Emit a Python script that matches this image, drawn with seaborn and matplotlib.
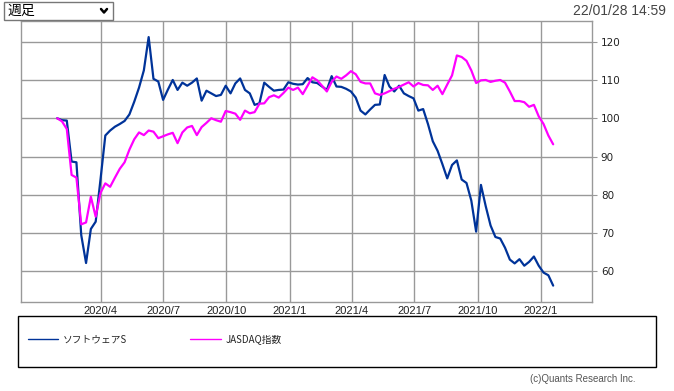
import numpy as np
import pandas as pd
import matplotlib
matplotlib.use("Agg")
import matplotlib.pyplot as plt
from matplotlib.lines import Line2D
from matplotlib.patches import Rectangle
import seaborn as sns

# weekly series, rebased to 100 at the first week
start_date = "2020-01-29"
software = [100.0, 99.5, 99.4, 88.7, 88.5, 69.5, 62.2, 71.1, 73.0, 84.0,
            95.5, 96.8, 97.8, 98.5, 99.3, 101.0, 104.3, 108.0, 112.5, 121.2,
            110.3, 109.6, 104.8, 107.5, 110.0, 107.4, 109.3, 108.5, 109.3, 110.4,
            104.6, 107.2, 106.5, 105.8, 106.1, 108.5, 106.5, 109.1, 110.4, 107.4,
            106.5, 103.5, 103.9, 109.3, 108.2, 107.2, 107.4, 107.5, 109.4, 109.0,
            108.8, 108.9, 110.5, 109.4, 109.2, 108.3, 107.4, 111.0, 108.3, 108.2,
            107.7, 107.0, 105.4, 102.0, 101.0, 102.3, 103.5, 103.6, 111.3, 108.3,
            107.0, 108.5, 106.5, 105.8, 105.2, 102.0, 102.4, 98.5, 94.0, 91.5,
            88.0, 84.3, 87.8, 89.0, 84.0, 83.1, 78.5, 70.4, 82.6, 77.0,
            72.0, 69.0, 68.6, 66.2, 63.1, 62.1, 63.2, 61.5, 62.5, 63.9,
            61.5, 59.7, 59.0, 56.3]
jasdaq = [100.0, 99.2, 97.2, 85.2, 84.5, 72.3, 72.8, 79.5, 74.3, 80.5,
          83.0, 82.1, 84.5, 86.8, 88.5, 91.8, 94.5, 96.3, 95.6, 96.8,
          96.5, 94.8, 95.3, 95.8, 96.2, 93.5, 96.3, 97.6, 98.0, 95.6,
          97.7, 98.8, 100.0, 99.5, 99.1, 101.9, 101.6, 101.2, 99.6, 102.0,
          101.3, 101.6, 103.8, 103.9, 105.5, 106.0, 105.4, 106.6, 108.0, 107.4,
          108.0, 106.3, 108.5, 110.7, 109.9, 108.5, 107.0, 109.5, 110.9, 110.3,
          111.2, 112.3, 111.5, 109.5, 109.1, 109.1, 106.5, 106.1, 106.5, 107.1,
          107.7, 108.2, 108.8, 109.4, 108.3, 109.2, 108.7, 108.6, 107.4, 108.5,
          106.3, 108.8, 111.2, 116.4, 116.0, 115.0, 112.5, 109.2, 109.9, 110.0,
          109.5, 109.8, 110.0, 109.3, 107.0, 104.5, 104.5, 104.2, 103.0, 103.5,
          100.5, 98.5, 95.5, 93.2]
series_names = ["ソフトウェアS", "JASDAQ指数"]
series_colors = ["#003399", "#ff00ff"]
tick_dates = ["2020-04-01", "2020-07-01", "2020-10-01", "2021-01-01",
              "2021-04-01", "2021-07-01", "2021-10-01", "2022-01-01"]
y_ticks = [60, 70, 80, 90, 100, 110, 120]

dates = pd.date_range(start_date, periods=len(software), freq="7D")
df = pd.DataFrame({"date": dates, series_names[0]: software, series_names[1]: jasdaq})
long_df = df.melt(id_vars="date", var_name="series", value_name="value")

sns.set_style("white")
plt.rcParams["font.family"] = ["DejaVu Sans", "Noto Sans CJK JP"]

W, H = 674, 391
fig = plt.figure(figsize=(W / 100, H / 100), dpi=100)
# plot box in pixels: left 20.7, right 591.7, top 21, bottom 301.7
ax = fig.add_axes([20.7 / W, 1 - 301.7 / H, (591.7 - 20.7) / W, (301.7 - 21) / H])

sns.lineplot(data=long_df, x="date", y="value", hue="series",
             hue_order=series_names, palette=dict(zip(series_names, series_colors)),
             linewidth=1.6, legend=False, ax=ax)

ax.set_xlim(pd.Timestamp("2019-12-07"), pd.Timestamp("2022-03-16"))
ax.set_ylim(52.1, 125.4)
ax.set_xlabel("")
ax.set_ylabel("")

tick_ts = pd.to_datetime(tick_dates)
ax.set_xticks(tick_ts)
ax.set_xticklabels([f"{d.year}/{d.month}" for d in tick_ts],
                   fontfamily="Liberation Sans", fontsize=8, color="#222222")
ax.yaxis.tick_right()
ax.set_yticks(y_ticks)
ax.set_yticklabels([str(v) for v in y_ticks], fontsize=7.5, color="#222222")
ax.tick_params(axis="x", length=0, pad=3)
ax.tick_params(axis="y", length=3.6, width=0.8, color="#999999", pad=3)

ax.grid(True, color="#999999", linewidth=1)
for sp in ax.spines.values():
    sp.set_color("#999999")
    sp.set_linewidth(1)

# legend box
fig.patches.append(Rectangle((18 / W, 1 - 367 / H), (656 - 18) / W, (367 - 316) / H,
                             transform=fig.transFigure, fill=False,
                             edgecolor="black", linewidth=1))
handles = [Line2D([], [], color=c, linewidth=1) for c in series_colors]
fig.legend(handles, series_names, loc="center left",
           bbox_to_anchor=(28 / W, 1 - 339 / H), frameon=False, ncol=2,
           borderaxespad=0, borderpad=0, handlelength=3.1, handletextpad=0.5,
           columnspacing=6.5, prop={"family": ["Noto Sans CJK JP"], "size": 7})

fig.text(635 / W, 1 - 379 / H, "(c)Quants Research Inc.", ha="right", va="center",
         fontsize=7, color="#555555", fontfamily="Liberation Sans")
fig.text(666 / W, 1 - 11 / H, "22/01/28 14:59", ha="right", va="center",
         fontsize=10, color="#444444", fontfamily="Liberation Sans")

# period selector box
fig.patches.append(Rectangle((4 / W, 1 - 20 / H), (113 - 4) / W, (20 - 1.5) / H,
                             transform=fig.transFigure, fill=False,
                             edgecolor="#777777", linewidth=1))
fig.text(7 / W, 1 - 11 / H, "週足", ha="left", va="center", fontsize=10,
         color="black", fontfamily=["Noto Sans CJK JP"])
fig.add_artist(Line2D([101 / W, 104 / W, 107 / W],
                      [1 - 9 / H, 1 - 12.5 / H, 1 - 9 / H],
                      transform=fig.transFigure, color="black", linewidth=1.8))

fig.savefig("out.png", dpi=100)
